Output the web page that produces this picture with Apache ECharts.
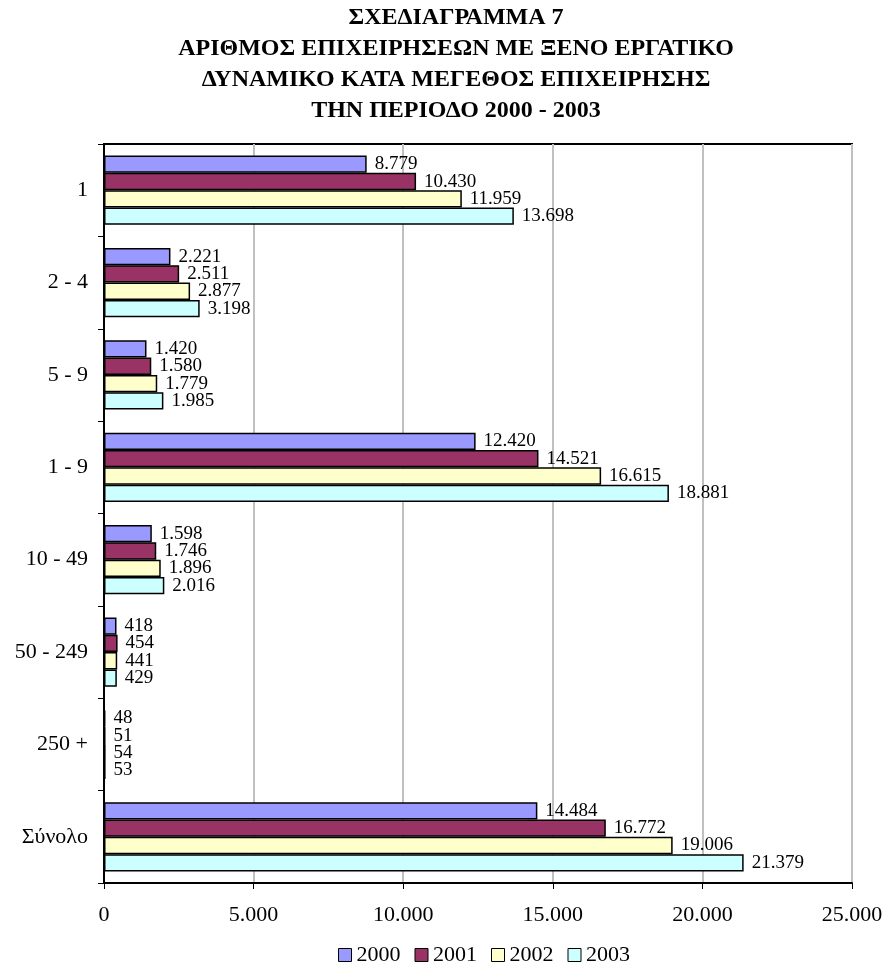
<!DOCTYPE html>
<html>
<head>
<meta charset="utf-8">
<script src="https://cdn.jsdelivr.net/npm/echarts@6/dist/echarts.min.js"></script>
<style>
html, body { margin: 0; padding: 0; background: #fff; }
#chart { width: 889px; height: 964px; }
</style>
</head>
<body>
<div id="chart"></div>
<script>
var categories = ['1', '2 - 4', '5 - 9', '1 - 9', '10 - 49', '50 - 249', '250 +', 'Σύνολο'];
var years = ['2000', '2001', '2002', '2003'];
var v2000 = [8779, 2221, 1420, 12420, 1598, 418, 48, 14484];
var v2001 = [10430, 2511, 1580, 14521, 1746, 454, 51, 16772];
var v2002 = [11959, 2877, 1779, 16615, 1896, 441, 54, 19006];
var v2003 = [13698, 3198, 1985, 18881, 2016, 429, 53, 21379];
var xTicks = [0, 5000, 10000, 15000, 20000, 25000];

var colors = ['#9999FF', '#993366', '#FFFFCC', '#CCFFFF'];
var font = '"Liberation Serif", "Times New Roman", serif';

function fmt(v) {
	return String(v).replace(/\B(?=(\d{3})+(?!\d))/g, '.');
}

var myChart = echarts.init(document.getElementById('chart'));

var values = [v2000, v2001, v2002, v2003];
var series = years.map(function (y, i) {
	return {
		name: y,
		type: 'bar',
		data: values[i],
		barGap: '0%',
		barCategoryGap: '25%',
		itemStyle: {
			color: colors[i],
			borderColor: '#000',
			borderWidth: 1.5
		},
		label: {
			show: true,
			position: 'right',
			distance: 8,
			color: '#000',
			fontFamily: font,
			fontSize: 19,
			formatter: function (p) { return fmt(p.value); }
		}
	};
});

var option = {
	backgroundColor: '#fff',
	animation: false,
	color: colors,
	title: {
		text: 'ΣΧΕΔΙΑΓΡΑΜΜΑ 7\nΑΡΙΘΜΟΣ ΕΠΙΧΕΙΡΗΣΕΩΝ ΜΕ ΞΕΝΟ ΕΡΓΑΤΙΚΟ\nΔΥΝΑΜΙΚΟ ΚΑΤΑ ΜΕΓΕΘΟΣ ΕΠΙΧΕΙΡΗΣΗΣ\nΤΗΝ ΠΕΡΙΟΔΟ 2000 - 2003',
		left: 456,
		textAlign: 'center',
		top: 2,
		padding: 0,
		textStyle: {
			fontFamily: font,
			fontWeight: 'bold',
			fontSize: 24,
			lineHeight: 31,
			color: '#000'
		}
	},
	legend: {
		data: years,
		left: 338,
		top: 944,
		padding: 0,
		itemWidth: 13,
		itemHeight: 13,
		itemGap: 14,
		icon: 'rect',
		itemStyle: { borderColor: '#000', borderWidth: 1 },
		textStyle: { fontFamily: font, fontSize: 22, color: '#000', padding: [0, 0, 0, 0] }
	},
	grid: {
		left: 104,
		right: 37,
		top: 144,
		bottom: 81,
		show: true,
		borderColor: '#000',
		borderWidth: 2,
		containLabel: false
	},
	xAxis: {
		type: 'value',
		min: xTicks[0],
		max: xTicks[xTicks.length - 1],
		interval: 5000,
		axisLine: { show: true, lineStyle: { color: '#000', width: 2 } },
		axisTick: { show: true, length: 6, lineStyle: { color: '#000' } },
		axisLabel: {
			margin: 21,
			color: '#000',
			fontFamily: font,
			fontSize: 22,
			formatter: function (v) { return fmt(v); }
		},
		splitLine: { show: true, lineStyle: { color: '#c0c0c0', width: 2 } }
	},
	yAxis: {
		type: 'category',
		data: categories,
		inverse: true,
		axisLine: { show: true, lineStyle: { color: '#000', width: 2 } },
		axisTick: { show: true, length: 6, lineStyle: { color: '#000' } },
		axisLabel: {
			margin: 16,
			color: '#000',
			fontFamily: font,
			fontSize: 22
		},
		splitLine: { show: false }
	},
	series: series
};

myChart.setOption(option);
</script>
</body>
</html>
